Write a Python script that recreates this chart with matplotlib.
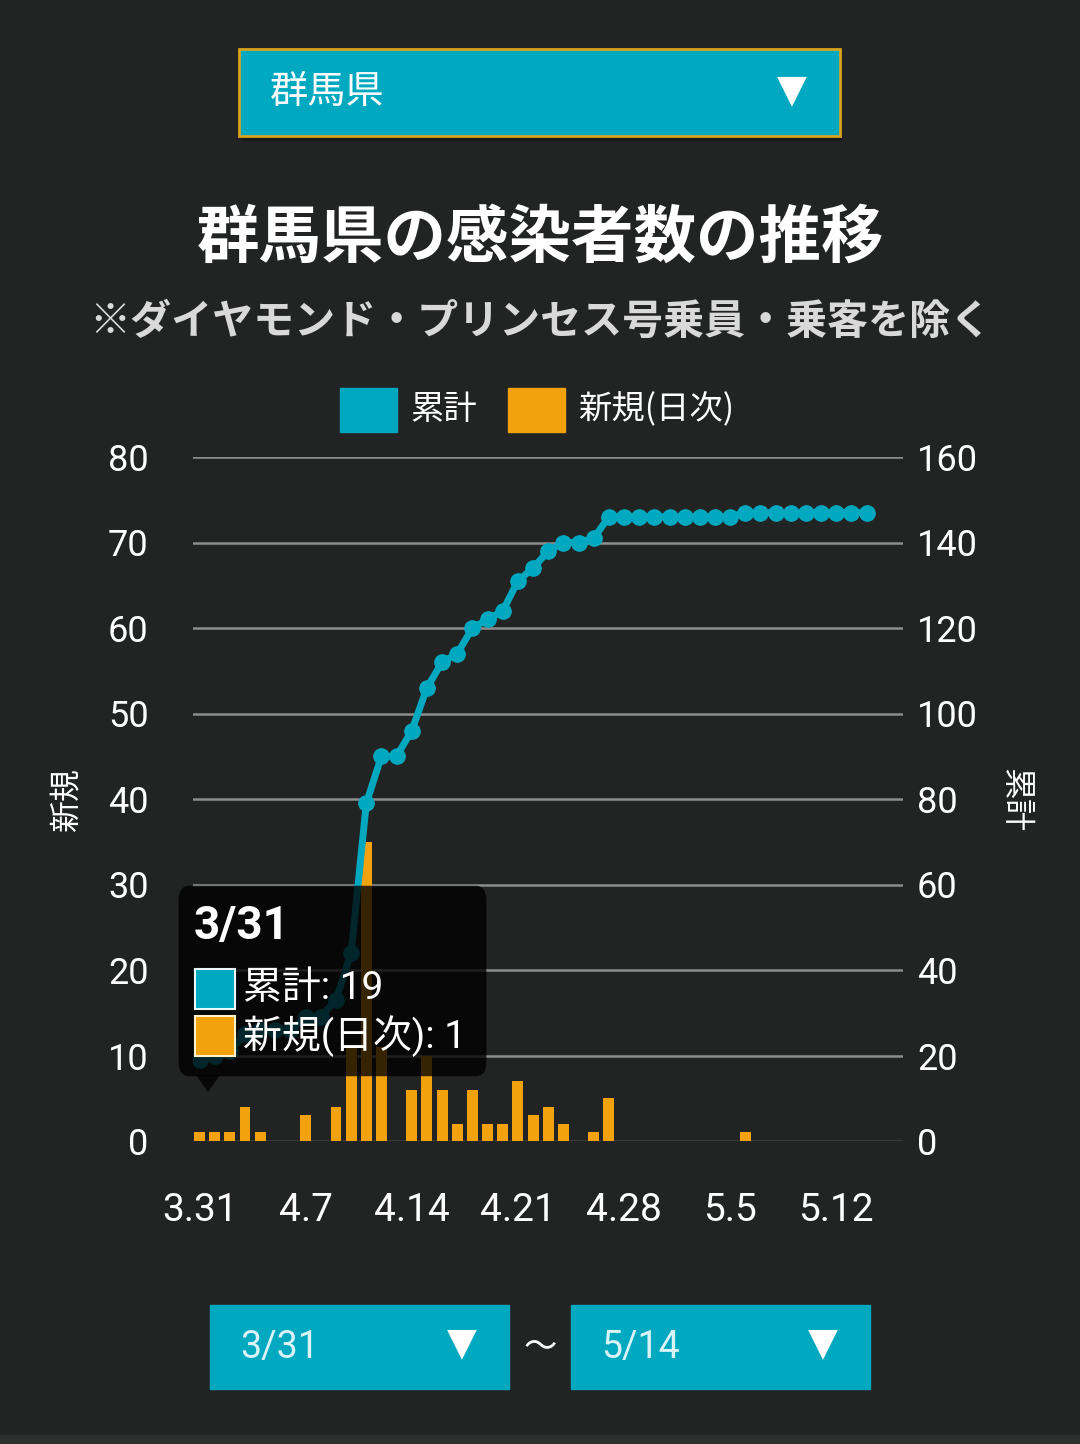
import matplotlib
matplotlib.use("Agg")
import matplotlib.pyplot as plt
from matplotlib.patches import Rectangle, FancyBboxPatch, Polygon

plt.rcParams['font.family'] = ['Roboto', 'Noto Sans CJK JP', 'DejaVu Sans']

# data: Gunma prefecture, 3/31 - 5/14
days = list(range(45))
new_cases = [1, 1, 1, 4, 1, 0, 0, 3, 0, 4,
             11, 35, 11, 0, 6, 10, 6, 2, 6, 2,
             2, 7, 3, 4, 2, 0, 1, 5, 0, 0,
             0, 0, 0, 0, 0, 0, 1, 0, 0, 0,
             0, 0, 0, 0, 0]
cumulative = [19, 20, 21, 25, 26, 26, 26, 29, 29, 33,
              44, 79, 90, 90, 96, 106, 112, 114, 120, 122,
              124, 131, 134, 138, 140, 140, 141, 146, 146, 146,
              146, 146, 146, 146, 146, 146, 147, 147, 147, 147,
              147, 147, 147, 147, 147]
tick_days = [0, 7, 14, 21, 28, 35, 42]
tick_labels = ['3.31', '4.7', '4.14', '4.21', '4.28', '5.5', '5.12']
left_ticks = [0, 10, 20, 30, 40, 50, 60, 70, 80]
right_ticks = [0, 20, 40, 60, 80, 100, 120, 140, 160]

BG = '#222423'
TEAL = '#00a8c0'
ORANGE = '#f2a20c'
W, H = 1080, 1444


def fx(x):
    return x / W


def fy(y):
    return 1 - y / H


fig = plt.figure(figsize=(10.8, 14.44), dpi=100, facecolor=BG)

# plot area in pixels: x 193..903, y 457..1141
ax = fig.add_axes([fx(193), fy(1141), (903 - 193) / W, (1141 - 457) / H])
ax.set_facecolor(BG)
ax2 = ax.twinx()

ax.bar(days, new_cases, width=0.72, color=ORANGE, zorder=2)
ax2.plot(days, cumulative, color=TEAL, lw=5, marker='o', ms=11, zorder=3)

ax.set_xlim(-0.43, 46.4)
ax.set_ylim(0, 80)
ax2.set_ylim(0, 160)
ax.set_yticks(left_ticks)
ax2.set_yticks(right_ticks)
ax.set_xticks(tick_days)
ax.set_xticklabels(tick_labels)

for t in left_ticks[1:]:
    ax.axhline(t, color='#8e8e8e', lw=1.8, zorder=1)
ax.axhline(0, color='#3c3e3d', lw=2, zorder=1)

for a in (ax, ax2):
    for s in a.spines.values():
        s.set_visible(False)
ax.tick_params(axis='x', length=0, pad=37, labelsize=28, labelcolor='white')
ax.tick_params(axis='y', length=0, pad=32, labelsize=26, labelcolor='white')
ax2.tick_params(axis='y', length=0, pad=10, labelsize=26, labelcolor='white')

# axis titles
fig.text(fx(68), fy(800), '新規', rotation=90, color='white', fontsize=23,
         ha='center', va='center', family=['Noto Sans CJK JP'])
fig.text(fx(1015), fy(800), '累計', rotation=270, color='white', fontsize=23,
         ha='center', va='center', family=['Noto Sans CJK JP'])

# legend
fig.add_artist(Rectangle((fx(340), fy(432)), 57 / W, 44 / H, color=TEAL))
fig.text(fx(410), fy(410), '累計', color='white', fontsize=24, va='center',
         family=['Noto Sans CJK JP'])
fig.add_artist(Rectangle((fx(508), fy(432)), 57 / W, 44 / H, color=ORANGE))
fig.text(fx(578), fy(410), '新規(日次)', color='white', fontsize=24, va='center',
         family=['Noto Sans CJK JP', 'DejaVu Sans'])

# titles
fig.text(0.5, fy(238), '群馬県の感染者数の推移', color='white', fontsize=45,
         fontweight='bold', ha='center', va='center', family=['Noto Sans CJK JP'])
fig.text(0.5, fy(322), '※ダイヤモンド・プリンセス号乗員・乗客を除く', color='#d9d9d9',
         fontsize=29.5, fontweight='bold', ha='center', va='center',
         family=['Noto Sans CJK JP'])

# prefecture dropdown
fig.add_artist(Rectangle((fx(241), fy(140)), 600 / W, 89 / H, color='#191a1a'))
fig.add_artist(Rectangle((fx(239), fy(136)), 601 / W, 87 / H, facecolor=TEAL,
                         edgecolor='#d9a21a', lw=2))
fig.text(fx(270), fy(93), '群馬県', color='white', fontsize=27.5, va='center',
         family=['Noto Sans CJK JP'])
fig.text(fx(792), fy(90), '▼', color='white', fontsize=28, ha='center',
         va='center', family=['DejaVu Sans'])

# date range dropdowns
for x0, label in ((210, '3/31'), (571, '5/14')):
    fig.add_artist(Rectangle((fx(x0), fy(1389)), 299 / W, 84 / H, color=TEAL))
    fig.text(fx(x0 + 30), fy(1347), label, color='#d8f4f8', fontsize=27,
             va='center')
    fig.text(fx(x0 + 252), fy(1343), '▼', color='white', fontsize=28,
             ha='center', va='center', family=['DejaVu Sans'])
fig.text(fx(540), fy(1347), '〜', color='white', fontsize=24, ha='center',
         va='center', family=['Noto Sans CJK JP'])
fig.add_artist(Rectangle((0, 0), 1, 9 / H, color='#2e302f'))

# tooltip
fig.add_artist(FancyBboxPatch((fx(184), fy(1069)), 297 / W, 176 / H,
                              boxstyle='round,pad=0.005,rounding_size=0.01',
                              facecolor='black', alpha=0.78, lw=0, zorder=5))
fig.add_artist(Polygon([(fx(196), fy(1075)), (fx(220), fy(1075)),
                        (fx(208), fy(1092))], closed=True,
                       facecolor='black', alpha=0.78, lw=0, zorder=5))
fig.text(fx(194), fy(926), '3/31', color='white', fontsize=33,
         fontweight='bold', va='center', zorder=6)
fig.add_artist(Rectangle((fx(195), fy(1009)), 40 / W, 40 / H, facecolor=TEAL,
                         edgecolor='#e8f8fa', lw=1.5, zorder=6))
fig.text(fx(243), fy(988), '累計: 19', color='white', fontsize=28,
         va='center', zorder=6)
fig.add_artist(Rectangle((fx(195), fy(1056)), 40 / W, 40 / H, facecolor=ORANGE,
                         edgecolor='#fff2c8', lw=1.5, zorder=6))
fig.text(fx(243), fy(1036), '新規(日次): 1', color='white', fontsize=28,
         va='center', zorder=6)

fig.savefig('out.png', dpi=100, facecolor=BG)
